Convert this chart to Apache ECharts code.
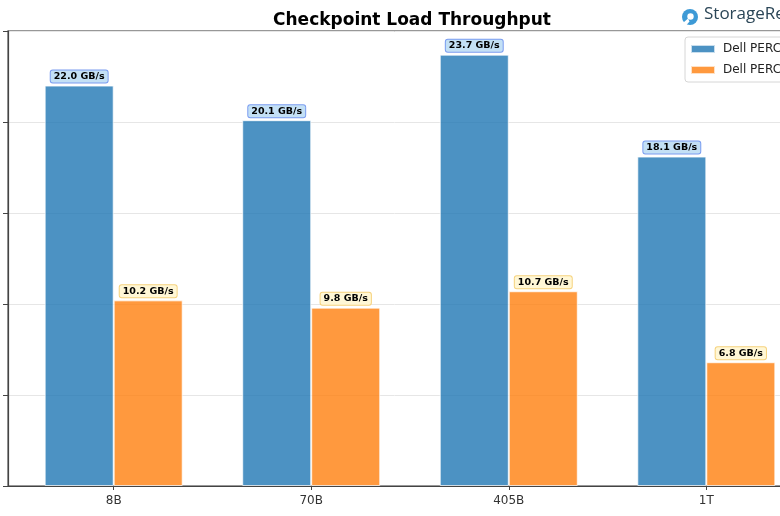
<!DOCTYPE html>
<html>
<head>
<meta charset="utf-8">
<script src="https://cdn.jsdelivr.net/npm/echarts@6/dist/echarts.min.js"></script>
<style>
html,body{margin:0;padding:0;background:#fff;}
#chart{width:780px;height:516px;}
</style>
</head>
<body>
<div id="chart"></div>
<script>
const categories = ['8B', '70B', '405B', '1T'];
const seriesNames = ['Dell PERC H975i', 'Dell PERC H965i'];
const seriesA = [22.0, 20.1, 23.7, 18.1];
const seriesB = [10.2, 9.8, 10.7, 6.8];
const yTicks = [0, 5, 10, 15, 20, 25];

const chart = echarts.init(document.getElementById('chart'), null, {renderer: 'canvas'});
const toPoints = arr => arr.map((v, i) => [i, v]);
const labelCommon = {
  show: true,
  position: 'top',
  distance: 3,
  fontFamily: 'DejaVu Sans',
  fontWeight: 'bold',
  fontSize: 9.5,
  lineHeight: 10,
  color: '#000',
  padding: [1, 3],
  borderWidth: 1,
  borderRadius: 2,
  formatter: p => p.value[1].toFixed(1) + ' GB/s'
};

chart.setOption({
  animation: false,
  backgroundColor: '#fff',
  title: {
    text: 'Checkpoint Load Throughput',
    left: 407,
    textAlign: 'center',
    top: 7,
    textStyle: {fontFamily: 'DejaVu Sans', fontWeight: 'bold', fontSize: 17, color: '#000'}
  },
  legend: {
    left: 685,
    top: 37,
    orient: 'vertical',
    itemWidth: 24,
    itemHeight: 8,
    itemGap: 9,
    padding: [6, 5, 6, 5],
    borderColor: '#d6d6d6',
    borderWidth: 1,
    borderRadius: 3,
    backgroundColor: 'rgba(255,255,255,0.85)',
    textStyle: {fontFamily: 'DejaVu Sans', fontSize: 12, color: '#222', padding: [0, 0, 0, 3]},
    data: seriesNames.map(n => ({name: n, icon: 'rect', itemStyle: {opacity: 1}}))
  },
  grid: {
    left: 8,
    top: 31,
    width: 804,
    height: 455,
    show: true,
    borderColor: '#777',
    borderWidth: 1.5,
    outerBoundsMode: 'none',
    containLabel: false
  },
  xAxis: {
    type: 'value',
    min: -0.535,
    max: 3.535,
    axisLine: {show: true, onZero: false, lineStyle: {color: '#444', width: 1.2}},
    axisTick: {show: true, customValues: [0, 1, 2, 3], length: 4, lineStyle: {color: '#444'}},
    axisLabel: {
      show: true,
      customValues: [0, 1, 2, 3],
      formatter: v => categories[Math.round(v)] || '',
      fontFamily: 'DejaVu Sans',
      fontSize: 12,
      color: '#333',
      margin: 9
    },
    splitLine: {show: false}
  },
  yAxis: {
    type: 'value',
    min: yTicks[0],
    max: yTicks[yTicks.length - 1],
    interval: 5,
    axisLine: {show: true, onZero: false, lineStyle: {color: '#444', width: 1.2}},
    axisTick: {show: true, length: 5, lineStyle: {color: '#444'}},
    axisLabel: {show: false},
    splitLine: {show: true, lineStyle: {color: '#e6e6e6', width: 1}}
  },
  series: [
    {
      name: seriesNames[0],
      type: 'bar',
      barWidth: 69,
      barGap: '0%',
      data: toPoints(seriesA),
      itemStyle: {color: 'rgba(31,119,180,0.8)', borderColor: 'rgba(255,255,255,0.7)', borderWidth: 1},
      label: Object.assign({}, labelCommon, {backgroundColor: '#c3e0f5', borderColor: '#7a9cf0'})
    },
    {
      name: seriesNames[1],
      type: 'bar',
      barWidth: 69,
      barGap: '0%',
      data: toPoints(seriesB),
      itemStyle: {color: 'rgba(255,127,14,0.8)', borderColor: 'rgba(255,255,255,0.7)', borderWidth: 1},
      label: Object.assign({}, labelCommon, {backgroundColor: '#fff7d6', borderColor: '#f6d27c'})
    }
  ],
  graphic: [
    {type: 'circle', shape: {cx: 690, cy: 17, r: 8}, style: {fill: '#3d9ad6'}},
    {type: 'circle', shape: {cx: 690.5, cy: 16.5, r: 3.2}, style: {fill: '#fff'}},
    {type: 'polygon', shape: {points: [[683.5, 22.5], [688, 18.5], [689.5, 21.5], [686, 25.5]]}, style: {fill: '#fff'}},
    {type: 'text', left: 704, top: 6, style: {text: 'StorageReview', font: '500 17px "Open Sans"', fill: '#2b4657'}}
  ]
});
</script>
</body>
</html>
